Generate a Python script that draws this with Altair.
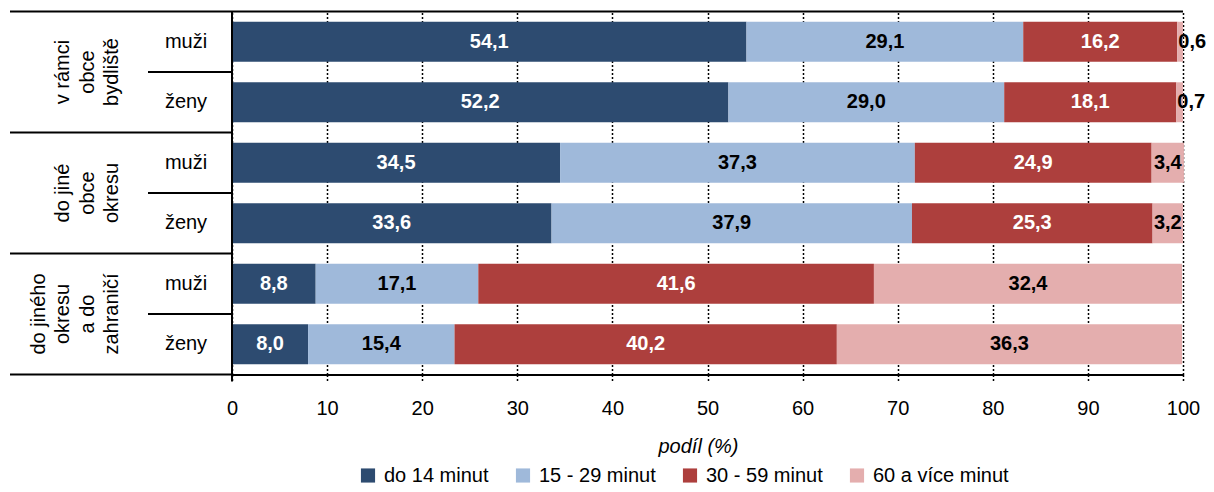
import altair as alt
import pandas as pd

# ---- data ----
groups = ["v rámci\nobce\nbydliště", "do jiné\nobce\nokresu", "do jiného\nokresu\na do\nzahraničí"]
sexes = ["muži", "ženy"]
categories = ["do 14 minut", "15 - 29 minut", "30 - 59 minut", "60 a více minut"]
colors = ["#2D4B70", "#9FB9DA", "#AD3F3D", "#E4AEAE"]

v_ramci_muzi = [54.1, 29.1, 16.2, 0.6]
v_ramci_zeny = [52.2, 29.0, 18.1, 0.7]
jina_obec_muzi = [34.5, 37.3, 24.9, 3.4]
jina_obec_zeny = [33.6, 37.9, 25.3, 3.2]
jiny_okres_muzi = [8.8, 17.1, 41.6, 32.4]
jiny_okres_zeny = [8.0, 15.4, 40.2, 36.3]

series = [
    [v_ramci_muzi, v_ramci_zeny],
    [jina_obec_muzi, jina_obec_zeny],
    [jiny_okres_muzi, jiny_okres_zeny],
]

rows = []
row_order = []
sub_rows = []
for gi, g in enumerate(groups):
    for si, s in enumerate(sexes):
        key = f"{gi}-{s}"
        row_order.append(key)
        sub_rows.append({"row": key, "sex": s})
        for ci, c in enumerate(categories):
            rows.append({"row": key, "cat": c, "order": ci, "value": series[gi][si][ci]})
df = pd.DataFrame(rows)
df_sub = pd.DataFrame(sub_rows)

n_rows = len(row_order)
per_group = len(sexes)
df_groups = pd.DataFrame({"label": groups,
                          "pos": [per_group * i + per_group / 2 for i in range(len(groups))]})
df_major = pd.DataFrame({"pos": [per_group * i for i in range(len(groups) + 1)]})
df_minor = pd.DataFrame({"pos": [per_group * i + 1 for i in range(len(groups))]})
df_top = pd.DataFrame({"pos": [0]})

FONT = "Liberation Sans"
W, H = 951, 363
LH = 24.5

yband = alt.Y("row:N", sort=row_order, axis=None,
              scale=alt.Scale(domain=row_order, paddingInner=0.34, paddingOuter=0.17))
yq = alt.Y("pos:Q", axis=None, scale=alt.Scale(domain=[0, n_rows], reverse=True, nice=False, zero=False))

base = alt.Chart(df).transform_stack(
    stack="value", groupby=["row"], as_=["x0", "x1"], sort=[alt.SortField("order")]
).transform_calculate(
    mid="(datum.x0 + datum.x1) / 2",
    label="replace(format(datum.value, '.1f'), '.', ',')",
)

bars = base.mark_bar().encode(
    x=alt.X("x0:Q", scale=alt.Scale(domain=[0, 100], nice=False),
            axis=alt.Axis(values=list(range(0, 101, 10)), title="podíl (%)",
                          grid=True, gridColor="black", gridDash=[2, 2], gridWidth=1.5,
                          domainColor="black", domainWidth=2,
                          tickColor="black", tickDash=[2, 2], tickWidth=1.5, tickSize=7,
                          labelFont=FONT, labelFontSize=20, labelColor="black", labelPadding=17,
                          labelFlush=False,
                          titleFont=FONT, titleFontSize=20, titleFontStyle="italic",
                          titleFontWeight="normal", titleColor="black",
                          titleX=466, titleY=62, titleBaseline="top")),
    x2="x1:Q",
    y=yband,
    color=alt.Color("cat:N", scale=alt.Scale(domain=categories, range=colors),
                    legend=alt.Legend(title=None, orient="none", direction="horizontal",
                                      legendX=126, legendY=454, symbolType="square",
                                      symbolSize=200, symbolStrokeWidth=0,
                                      labelFont=FONT, labelFontSize=20, labelColor="black",
                                      columnPadding=24, labelOffset=6, padding=0)),
    order=alt.Order("order:Q"),
)

dark = "datum.order == 0 || datum.order == 2"
labels_mid = base.transform_filter("datum.value >= 2").mark_text(
    font=FONT, fontSize=20, fontWeight="bold", baseline="middle", align="center"
).encode(
    x="mid:Q", y=yband, text="label:N",
    color=alt.condition(dark, alt.value("white"), alt.value("black")),
)
labels_small = base.transform_filter("datum.value < 2").mark_text(
    font=FONT, fontSize=20, fontWeight="bold", baseline="middle", align="left", dx=1, color="black"
).encode(x="x0:Q", y=yband, text="label:N")

sub_text = alt.Chart(df_sub).mark_text(
    font=FONT, fontSize=20, baseline="middle", align="center", color="black"
).encode(x=alt.value(-46), y=yband, text="sex:N")

# rotated multi-line group labels: last line kept at a fixed position
LAST_BASE = 118 - 232
group_base = alt.Chart(df_groups).transform_calculate(
    nl="length(split(datum.label, '\\n'))"
)
group_layers = []
for nl in sorted({g.count("\n") + 1 for g in groups}):
    group_layers.append(
        group_base.transform_filter(f"datum.nl == {nl}").mark_text(
            font=FONT, fontSize=20, baseline="alphabetic", align="center", angle=270,
            lineBreak="\n", lineHeight=LH, color="black"
        ).encode(x=alt.value(LAST_BASE - (nl - 1) * LH), y=yq, text="label:N")
    )

major = alt.Chart(df_major).mark_rule(color="black", strokeWidth=2).encode(
    x=alt.value(-222), x2=alt.value(0), y=yq)
minor = alt.Chart(df_minor).mark_rule(color="black", strokeWidth=2).encode(
    x=alt.value(-84), x2=alt.value(0), y=yq)
top = alt.Chart(df_top).mark_rule(color="black", strokeWidth=2).encode(
    x=alt.value(0), x2=alt.value(W), y=yq)
vline = alt.Chart(df_top).mark_rule(color="black", strokeWidth=2).encode(
    x=alt.value(0), y=alt.value(0), y2=alt.value(H + 7))

chart = alt.layer(
    bars, labels_mid, labels_small, sub_text, *group_layers, major, minor, top, vline
).resolve_scale(y="independent").properties(
    width=W, height=H,
    padding={"left": 224, "top": 3.5, "right": 23, "bottom": 109.5},
    autosize=alt.AutoSizeParams(type="none"),
).configure_view(stroke=None)

chart.save("out.html", embed_options={"renderer": "svg", "actions": False})
